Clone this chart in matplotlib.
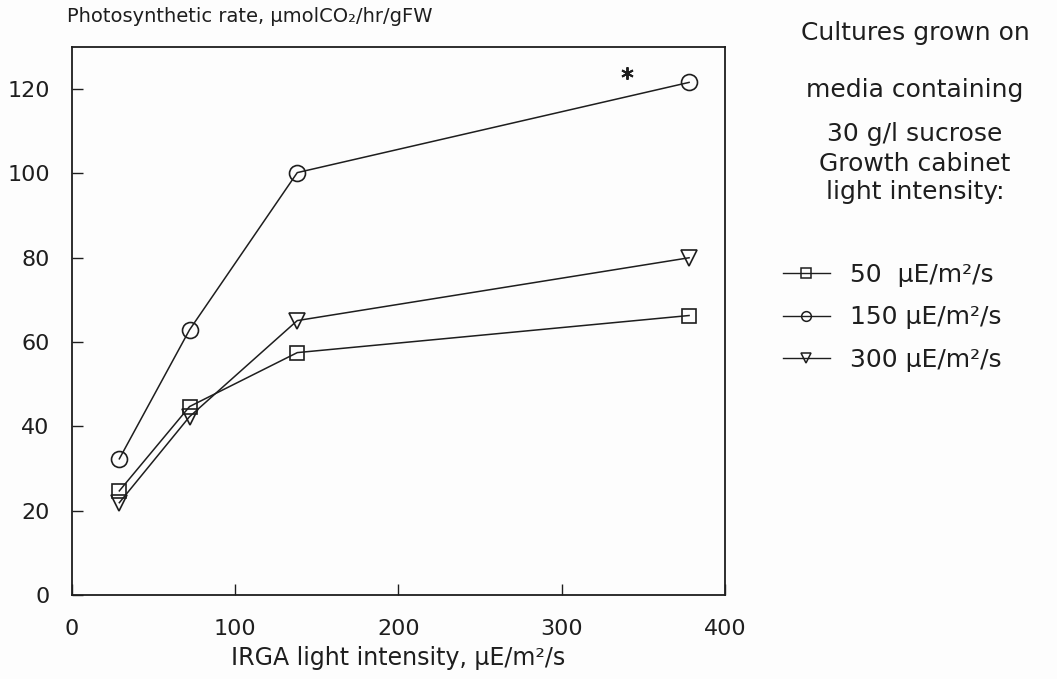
import matplotlib
matplotlib.use("Agg")
import matplotlib.pyplot as plt
from matplotlib.lines import Line2D

# IRGA light intensity (uE/m2/s) at which photosynthesis was measured
irga_light = [29, 72, 138, 378]

# Photosynthetic rate (umol CO2/hr/gFW) for each growth-cabinet light intensity
rate_50 = [24.7, 44.7, 57.5, 66.3]
rate_150 = [32.3, 62.9, 100.2, 121.6]
rate_300 = [21.9, 42.3, 65.1, 80.0]

series_labels = ["50  µE/m²/s", "150 µE/m²/s", "300 µE/m²/s"]
series_markers = ["s", "o", "v"]

x_ticks = [0, 100, 200, 300, 400]
y_ticks = [0, 20, 40, 60, 80, 100, 120]

# significance mark
star_x, star_y = 340, 123.8

ink = "#1e1e1e"
plt.rcParams["font.family"] = ["DejaVu Sans"]

fig = plt.figure(figsize=(10.57, 6.79), dpi=100, facecolor="#fdfdfd")
ax = fig.add_axes([0.0681, 0.1237, 0.6178, 0.8071])
ax.set_facecolor("#fdfdfd")

marker_sizes = {"s": 9.5, "o": 11.5, "v": 11.5}
for ys, mk in zip([rate_50, rate_150, rate_300], series_markers):
    ax.plot(irga_light, ys, color=ink, lw=1.1, marker=mk,
            markersize=marker_sizes[mk], markerfacecolor="none",
            markeredgecolor=ink, markeredgewidth=1.2, zorder=3)

ax.plot([star_x], [star_y], linestyle="none", marker=(6, 2, 0),
        markersize=9, markeredgewidth=1.4, color=ink)

ax.set_xlim(0, 400)
ax.set_ylim(0, 130)
ax.set_xticks(x_ticks)
ax.set_yticks(y_ticks)
ax.tick_params(axis="both", direction="in", length=8, width=1.0, colors=ink,
               labelsize=16, labelcolor=ink)
ax.tick_params(axis="x", pad=17)
ax.tick_params(axis="y", pad=16)
for s in ax.spines.values():
    s.set_color(ink)
    s.set_linewidth(1.3)

ax.set_xlabel("IRGA light intensity, µE/m²/s", fontsize=17, color=ink,
              labelpad=5)
fig.text(67 / 1057, 1 - 17 / 679, "Photosynthetic rate, µmolCO₂/hr/gFW",
         fontsize=14, color=ink, ha="left", va="center")

# Explanatory block on the right
notes = [("Cultures grown on", 33), ("media containing", 90),
         ("30 g/l sucrose", 134), ("Growth cabinet", 164),
         ("light intensity:", 192)]
for txt, ypx in notes:
    fig.text(915 / 1057, 1 - ypx / 679, txt, fontsize=18, color=ink,
             ha="center", va="center")

handles = [Line2D([], [], color=ink, lw=1.0, marker=mk, markersize=7,
                  markerfacecolor="none", markeredgecolor=ink,
                  markeredgewidth=1.1) for mk in series_markers]
fig.legend(handles, series_labels, loc="upper left",
           bbox_to_anchor=(760 / 1057, 1 - 240 / 679), frameon=False,
           fontsize=18, handlelength=1.9, handletextpad=0.8,
           labelspacing=0.75, labelcolor=ink)

fig.savefig("out.png", dpi=100, facecolor=fig.get_facecolor())
